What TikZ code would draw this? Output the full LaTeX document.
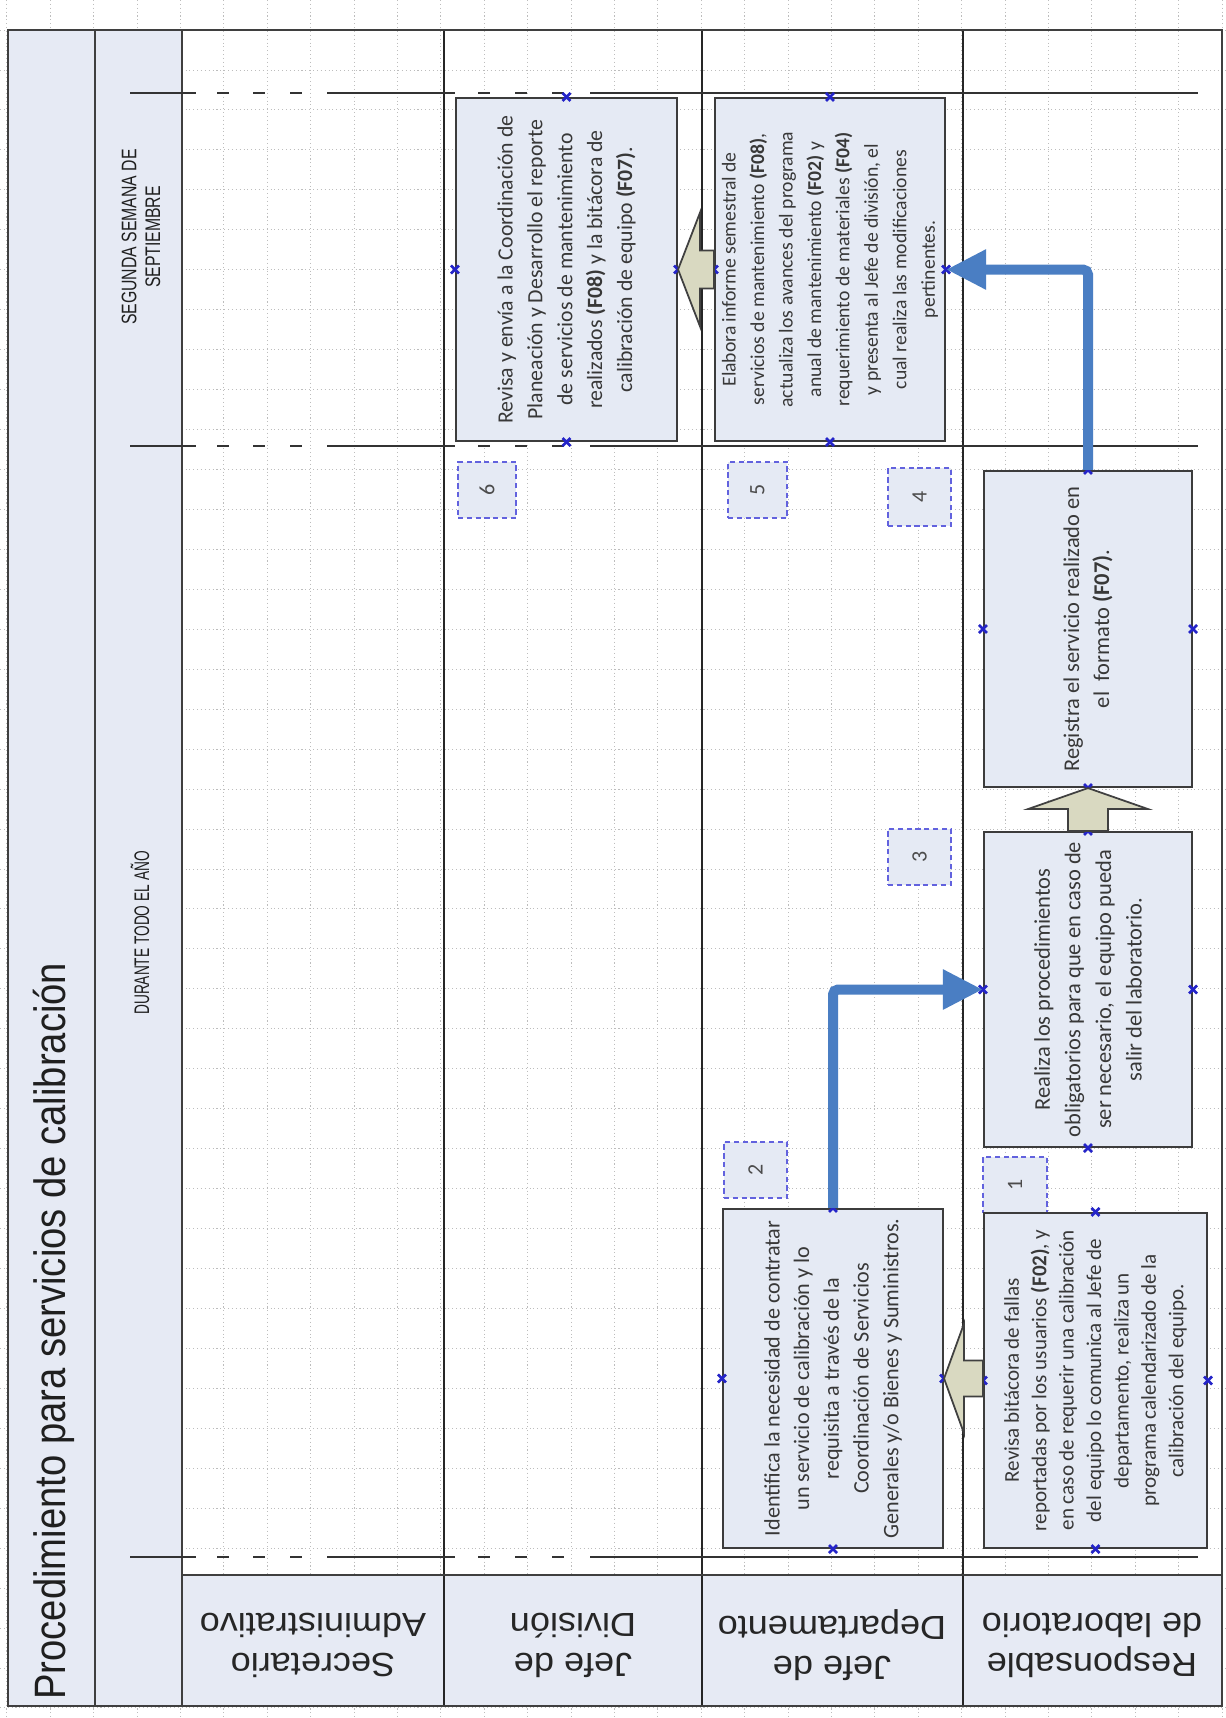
\documentclass[tikz,border=0pt]{standalone}
\usepackage{fontspec}
\setmainfont{Carlito}
\newfontfamily\arialf{Liberation Sans}
\usetikzlibrary{fit,arrows.meta,calc}
\definecolor{hdrfill}{HTML}{E6EAF4}
\definecolor{boxfill}{HTML}{E5EAF4}
\definecolor{boxline}{HTML}{3C3C3C}
\definecolor{blueln}{HTML}{4A7EC3}
\definecolor{khaki}{HTML}{D9D9C1}
\definecolor{tagline}{HTML}{6262DE}
\definecolor{gridc}{HTML}{BDBDBD}
\definecolor{framec}{HTML}{3F3F3F}
\definecolor{markc}{HTML}{2424C8}
\begin{document}
\begin{tikzpicture}[x=0.02cm, y=-0.02cm,
  frameln/.style={draw=framec, line width=1.5pt},
  lanesep/.style={draw=black!85, line width=1.1pt},
  phaseln/.style={draw=black!80, line width=1.4pt},
  procbox/.style={draw=boxline, fill=boxfill, line width=1.2pt, inner sep=0pt},
  boxtext/.style={rotate=90, align=center, text=black!78, inner sep=0pt},
  tagbox/.style={draw=tagline, densely dashed, fill=boxfill, line width=0.8pt, inner sep=0pt},
  tagtext/.style={rotate=90, text=black!70, font=\fontsize{12.5}{14}\selectfont, inner sep=0pt},
  cmk/.style={draw=markc, line width=1.5pt},
  fatarrow/.style={draw=black!75, fill=khaki, line width=1pt, line join=miter},
  bluecon/.style={draw=blueln, line width=0.2cm, rounded corners=0.1cm, -{Triangle[length=0.8cm, width=0.75cm]}},
  lanelbl/.style={rotate=180, xscale=1.08, align=center, font=\arialf\fontsize{19}{22.7}\selectfont, text=black!85, inner sep=0pt},
  phaselbl/.style={rotate=90, align=center, font=\arialf\fontsize{12}{13.6}\selectfont, text=black!88, inner sep=0pt},
  gridln/.style={draw=gridc, line width=0.5pt, dash pattern=on 0.6pt off 1.6pt}
]
\useasboundingbox (0,0) rectangle (1226,1718);
\fill[white] (0,0) rectangle (1226,1718);
% grid
\foreach \i in {0,...,28} \draw[gridln] ({6.8+43.4*\i},0) -- ({6.8+43.4*\i},1718);
\foreach \j in {0,...,43} \draw[gridln] (0,{-9.95+39.95*\j}) -- (1226,{-9.95+39.95*\j});
% header fills
\fill[hdrfill] (8,30) rectangle (182,1706);
\fill[hdrfill] (182,1575) rectangle (1222,1706);
% lane separators
\foreach \xx in {444,702,963} \draw[lanesep] (\xx,30) -- (\xx,1706);
% frame
\draw[frameln] (8,30) rectangle (1222,1706);
\draw[frameln] (95,30) -- (95,1706);
\draw[frameln] (182,30) -- (182,1706);
\draw[frameln] (182,1575) -- (1222,1575);
% phase lines
\foreach \yy in {93,446,1557} {
  \draw[phaseln] (130,\yy) -- (196,\yy);
  \foreach \xa in {217,253,290} \draw[phaseln] (\xa,\yy) -- ({\xa+12},\yy);
  \draw[phaseln] (327,\yy) -- (455,\yy);
  \foreach \xa in {478,515,552} \draw[phaseln] (\xa,\yy) -- ({\xa+12},\yy);
  \draw[phaseln] (590,\yy) -- (1198,\yy);
}
% title and phase labels
\node[rotate=90, anchor=base west, font=\arialf\fontsize{25}{28}\selectfont, text=black!88, inner sep=0pt] (title) at (65,1700) {\scalebox{0.87}[1]{Procedimiento para servicios de calibración}};
\node[phaselbl] (ph1) at (140,933) {\scalebox{0.65}[1]{DURANTE TODO EL AÑO}};
\node[phaselbl] (ph2) at (141,237) {\scalebox{0.75}[1]{SEGUNDA SEMANA DE}\\\scalebox{0.75}[1]{SEPTIEMBRE}};
% lane labels
\node[lanelbl] (l1) at (313,1645) {Secretario\\Administrativo};
\node[lanelbl] (l2) at (573,1645) {Jefe de\\División};
\node[lanelbl] (l3) at (832,1645) {Jefe de\\Departamento};
\node[lanelbl] (l4) at (1092,1645) {Responsable\\de laboratorio};
% tags
\node[tagbox, fit={(983,1157) (1047,1213)}] (g1) {};
\node[tagbox, fit={(724,1142) (787,1198)}] (g2) {};
\node[tagbox, fit={(888,829) (951,885)}] (g3) {};
\node[tagbox, fit={(888,468) (951,526)}] (g4) {};
\node[tagbox, fit={(728,462) (787,518)}] (g5) {};
\node[tagbox, fit={(458,462) (516,518)}] (g6) {};
\foreach \g/\n in {g1/1,g2/2,g3/3,g4/4,g5/5,g6/6} \node[tagtext] (n\g) at (\g.center) {\n};
% boxes
\node[procbox, fit={(984,1213) (1207,1548)}] (b1) {};
\node[procbox, fit={(723,1209) (943,1548)}] (b2) {};
\node[procbox, fit={(984,832) (1192,1147)}] (b3) {};
\node[procbox, fit={(984,471) (1192,787)}] (b4) {};
\node[procbox, fit={(715,98) (945,441)}] (b5) {};
\node[procbox, fit={(456,98) (677,441)}] (b6) {};
% connection markers
\foreach \b in {b1,b2,b3,b4,b5,b6} \foreach \a in {north,south,east,west}
  \draw[cmk] ($(\b.\a)+(-4,-4)$) -- ($(\b.\a)+(4,4)$) ($(\b.\a)+(-4,4)$) -- ($(\b.\a)+(4,-4)$);
% box texts
\node[boxtext, font=\fontsize{12}{15.6}\selectfont] (t1) at (b1.center) {Revisa bitácora de fallas\\reportadas por los usuarios \textbf{(F02)}, y\\en caso de requerir una calibración\\del equipo lo comunica al Jefe de\\departamento, realiza un\\programa calendarizado de la\\calibración del equipo.};
\node[boxtext, font=\fontsize{12.6}{16.9}\selectfont] (t2) at (b2.center) {Identifica la necesidad de contratar\\un servicio de calibración y lo\\requisita a través de la\\Coordinación de Servicios\\Generales y/o Bienes y Suministros.};
\node[boxtext, font=\fontsize{12.8}{17.4}\selectfont] (t3) at (b3.center) {Realiza los procedimientos\\obligatorios para que en caso de\\ser necesario, el equipo pueda\\salir del laboratorio.};
\node[boxtext, font=\fontsize{12.8}{17.2}\selectfont] (t4) at (b4.center) {Registra el servicio realizado en\\el\ \ formato \textbf{(F07)}.};
\node[boxtext, font=\fontsize{11.2}{16.2}\selectfont] (t5) at (b5.center) {Elabora informe semestral de\\servicios de mantenimiento \textbf{(F08)},\\actualiza los avances del programa\\anual de mantenimiento \textbf{(F02)} y\\requerimiento de materiales \textbf{(F04)}\\y presenta al Jefe de división, el\\cual realiza las modificaciones\\pertinentes.};
\node[boxtext, font=\fontsize{12.4}{17}\selectfont] (t6) at (b6.center) {Revisa y envía a la Coordinación de\\Planeación y Desarrollo el reporte\\de servicios de mantenimiento\\realizados \textbf{(F08)} y la bitácora de\\calibración de equipo \textbf{(F07)}.};
% block arrows
\draw[fatarrow] ($(b2.east -| b1.west)+(0,-18)$) -- ($(b2.east)+(20,-18)$) -- ($(b2.east)+(20,-55)$) -- (b2.east) -- ($(b2.east)+(20,55)$) -- ($(b2.east)+(20,18)$) -- ($(b2.east -| b1.west)+(0,18)$) -- cycle;
\draw[fatarrow] ($(b3.north)+(-20,0)$) -- ($(b4.south)+(-20,21)$) -- ($(b4.south)+(-60,21)$) -- (b4.south) -- ($(b4.south)+(60,21)$) -- ($(b4.south)+(20,21)$) -- ($(b3.north)+(20,0)$) -- cycle;
\draw[fatarrow] ($(b6.east -| b5.west)+(0,-19)$) -- ($(b6.east)+(22,-19)$) -- ($(b6.east)+(22,-57)$) -- (b6.east) -- ($(b6.east)+(22,57)$) -- ($(b6.east)+(22,19)$) -- ($(b6.east -| b5.west)+(0,19)$) -- cycle;
% blue connectors
\draw[bluecon] (b2.north) |- (b3.west);
\draw[bluecon] (b4.north) |- (b5.east);
\end{tikzpicture}
\end{document}
